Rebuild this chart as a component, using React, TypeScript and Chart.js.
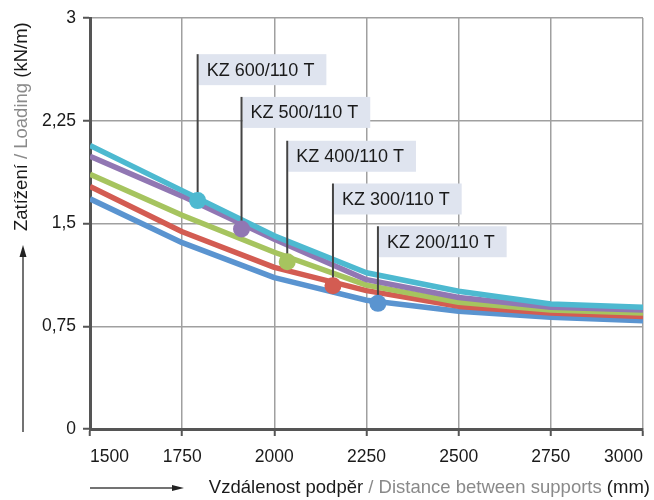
import React, { useEffect, useRef } from "react";
import { Chart, registerables } from "chart.js";

Chart.register(...registerables);

const FONT = "'Liberation Sans', Arial, Helvetica, sans-serif";

// Data
const distances = [1500, 1750, 2000, 2250, 2500, 2750, 3000];
const kz600 = [2.07, 1.74, 1.41, 1.14, 1.005, 0.912, 0.888];
const kz500 = [1.99, 1.70, 1.385, 1.09, 0.96, 0.888, 0.869];
const kz400 = [1.86, 1.56, 1.29, 1.05, 0.925, 0.869, 0.847];
const kz300 = [1.77, 1.44, 1.18, 1.01, 0.895, 0.847, 0.822];
const kz200 = [1.68, 1.36, 1.105, 0.94, 0.86, 0.815, 0.791];

const seriesNames = ["KZ 600/110 T", "KZ 500/110 T", "KZ 400/110 T", "KZ 300/110 T", "KZ 200/110 T"];
const seriesValues = [kz600, kz500, kz400, kz300, kz200];
const seriesColors = ["#4db9d0", "#9177b3", "#a6c45f", "#d35c52", "#5a94d0"];

// Marker points and label anchors (data units)
const markerX = [1792, 1911, 2035, 2159, 2281];
const markerY = [1.667, 1.46, 1.22, 1.045, 0.917];
const labelTopY = [2.736, 2.424, 2.104, 1.792, 1.48];

const yMin = 0;
const yMax = 3;
const yStep = 0.75;
const xMin = 1500;
const xMax = 3000;
const xStep = 250;

const yTitleParts: [string, string][] = [["Zatížení", "#1a1a1a"], [" / Loading ", "#8a8a8a"], ["(kN/m)", "#1a1a1a"]];
const xTitleParts: [string, string][] = [["Vzdálenost podpěr", "#1a1a1a"], [" / Distance between supports ", "#8a8a8a"], ["(mm)", "#1a1a1a"]];

const MARKER_INDEX = seriesNames.length;

const annotationPlugin = {
  id: "kzAnnotations",
  beforeDatasetDraw(chart: any, args: any) {
    if (args.index !== MARKER_INDEX) return;
    const ctx = chart.ctx;
    const xs = chart.scales.x;
    const ys = chart.scales.y;
    ctx.save();
    ctx.font = `18px ${FONT}`;
    seriesNames.forEach((name, i) => {
      const px = xs.getPixelForValue(markerX[i]);
      const py = ys.getPixelForValue(markerY[i]);
      const top = ys.getPixelForValue(labelTopY[i]);
      const w = ctx.measureText(name).width + 20;
      const h = 31;
      ctx.fillStyle = "#dfe4ef";
      ctx.fillRect(px + 1, top, w, h);
      ctx.fillStyle = "#1a1a1a";
      ctx.textBaseline = "middle";
      ctx.textAlign = "left";
      ctx.fillText(name, px + 9, top + h / 2 + 1);
      ctx.strokeStyle = "#444";
      ctx.lineWidth = 2;
      ctx.beginPath();
      ctx.moveTo(px, top);
      ctx.lineTo(px, py);
      ctx.stroke();
    });
    ctx.restore();
  },
  afterDraw(chart: any) {
    const ctx = chart.ctx;
    const area = chart.chartArea;
    ctx.save();
    ctx.font = `18.5px ${FONT}`;
    ctx.textBaseline = "middle";
    ctx.textAlign = "left";
    // Y title (rotated)
    ctx.save();
    ctx.translate(22, 231);
    ctx.rotate(-Math.PI / 2);
    let off = 0;
    yTitleParts.forEach(([t, c]) => {
      ctx.fillStyle = c;
      ctx.fillText(t, off, 0);
      off += ctx.measureText(t).width;
    });
    ctx.restore();
    // X title
    const total = xTitleParts.reduce((s, [t]) => s + ctx.measureText(t).width, 0);
    let x = 650 - total;
    const ty = 488;
    xTitleParts.forEach(([t, c]) => {
      ctx.fillStyle = c;
      ctx.fillText(t, x, ty);
      x += ctx.measureText(t).width;
    });
    // arrows
    ctx.strokeStyle = "#444";
    ctx.fillStyle = "#222";
    ctx.lineWidth = 1.5;
    ctx.beginPath();
    ctx.moveTo(23, area.bottom + 3);
    ctx.lineTo(23, 254);
    ctx.stroke();
    ctx.beginPath();
    ctx.moveTo(23, 245);
    ctx.lineTo(19.5, 257);
    ctx.lineTo(26.5, 257);
    ctx.closePath();
    ctx.fill();
    ctx.beginPath();
    ctx.moveTo(area.left, ty);
    ctx.lineTo(176, ty);
    ctx.stroke();
    ctx.beginPath();
    ctx.moveTo(184, ty);
    ctx.lineTo(172, ty - 3);
    ctx.lineTo(172, ty + 3);
    ctx.closePath();
    ctx.fill();
    ctx.restore();
  },
};

export default function App() {
  const canvasRef = useRef<HTMLCanvasElement | null>(null);

  useEffect(() => {
    document.body.style.margin = "0";
    const canvas = canvasRef.current;
    if (!canvas) return;
    Chart.defaults.font.family = FONT;

    const lineDatasets = seriesNames.map((name, i) => ({
      type: "line" as const,
      label: name,
      data: distances.map((d, j) => ({ x: d, y: seriesValues[i][j] })),
      borderColor: seriesColors[i],
      backgroundColor: seriesColors[i],
      borderWidth: 5.5,
      pointRadius: 0,
      tension: 0,
      order: i + 1,
      borderJoinStyle: "round" as const,
    }));

    const markerDataset = {
      type: "scatter" as const,
      label: "markers",
      data: markerX.map((x, i) => ({ x, y: markerY[i] })),
      pointRadius: 8.5,
      pointBorderWidth: 0,
      pointBackgroundColor: seriesColors,
      pointBorderColor: seriesColors,
      showLine: false,
      order: 0,
    };

    const chart = new Chart(canvas, {
      type: "line",
      data: { datasets: [...lineDatasets, markerDataset] as any },
      plugins: [annotationPlugin],
      options: {
        animation: false,
        responsive: false,
        devicePixelRatio: 1,
        layout: { padding: { top: 18, right: 5, left: 0, bottom: 0 }, autoPadding: false } as any,
        plugins: { legend: { display: false }, tooltip: { enabled: false } },
        scales: {
          x: {
            type: "linear",
            min: xMin,
            max: xMax,
            ticks: {
              stepSize: xStep,
              align: "inner",
              padding: 11,
              color: "#1a1a1a",
              font: { size: 17.5, family: FONT },
              maxRotation: 0,
              callback: (v: any) => String(v),
            },
            grid: { color: "#a0a0a0", lineWidth: 1.5, tickLength: 7, tickColor: "#555", tickWidth: 2 },
            border: { color: "#555", width: 3 },
            afterFit: (s: any) => { s.height = 71; },
          },
          y: {
            type: "linear",
            min: yMin,
            max: yMax,
            ticks: {
              stepSize: yStep,
              padding: 7,
              color: "#1a1a1a",
              font: { size: 17.5, family: FONT },
              callback: (v: any) => String(v).replace(".", ","),
            },
            grid: { color: "#a0a0a0", lineWidth: 1.5, tickLength: 7, tickColor: "#555", tickWidth: 2 },
            border: { color: "#555", width: 3 },
            afterFit: (s: any) => { s.width = 90; },
          },
        },
      } as any,
    });
    return () => chart.destroy();
  }, []);

  return (
    <div style={{ position: "absolute", left: 0, top: 0, width: 654, height: 500, background: "#fff" }}>
      <canvas ref={canvasRef} width={654} height={500} />
    </div>
  );
}
